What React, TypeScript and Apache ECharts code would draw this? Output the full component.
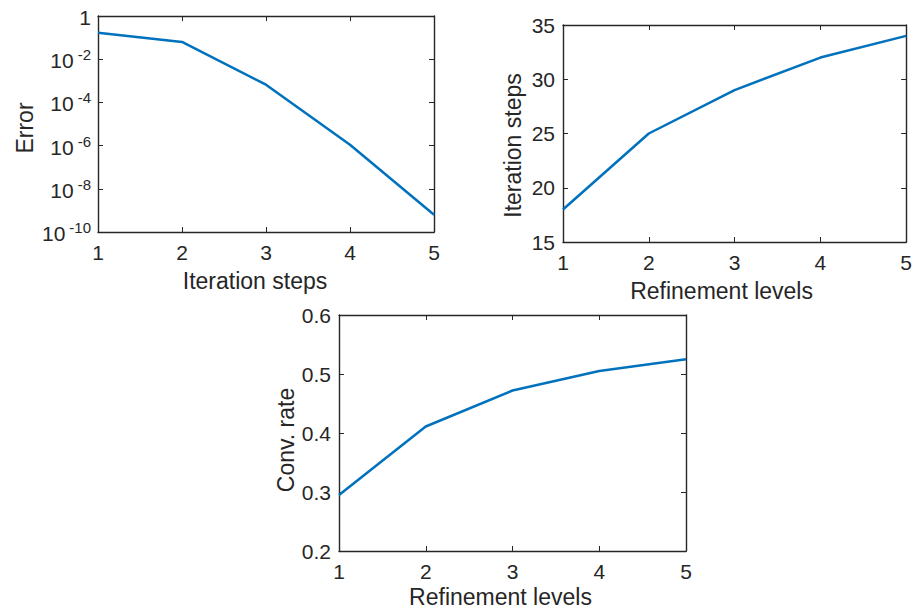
import React, { useEffect, useRef } from "react";
import * as echarts from "echarts";

const levels = [1, 2, 3, 4, 5];
const errorValues = [0.166, 0.063, 6.6e-4, 1.1e-6, 6.3e-10];
const iterationSteps = [18, 25, 29, 32, 34];
const convRates = [0.295, 0.411, 0.472, 0.505, 0.525];

const xTicks = [1, 2, 3, 4, 5];
const errorTickExponents = [0, -2, -4, -6, -8, -10];

const TXT = "#262626";
const LINE = "#0072BD";
const FONT = "'Liberation Sans', Arial, Helvetica, sans-serif";

export default function App() {
  const ref = useRef<HTMLDivElement>(null);
  useEffect(() => {
    if (!ref.current) return;
    const chart = echarts.init(ref.current, undefined, { renderer: "svg" });

    const axisLine = { show: true, onZero: false, lineStyle: { color: TXT, width: 1.4 } };
    const tick = { show: true, inside: true, length: 5, lineStyle: { color: TXT, width: 1 } };
    const label = { color: TXT, fontSize: 21, fontFamily: FONT };
    const nameStyle = (shift: number) => ({
      color: TXT,
      fontSize: 23,
      fontFamily: FONT,
      padding: [0, shift * 2, 0, 0],
    });

    const xMain = (gridIndex: number, name: string, gap: number, shift: number) => ({
      type: "value",
      gridIndex,
      position: "bottom",
      min: xTicks[0],
      max: xTicks[xTicks.length - 1],
      interval: 1,
      name,
      nameLocation: "middle",
      nameGap: gap,
      nameTextStyle: nameStyle(shift),
      axisLine,
      axisTick: tick,
      axisLabel: { ...label, margin: 10 },
      splitLine: { show: false },
    });
    const xTop = (gridIndex: number) => ({
      type: "value",
      gridIndex,
      position: "top",
      min: xTicks[0],
      max: xTicks[xTicks.length - 1],
      interval: 1,
      axisLine,
      axisTick: tick,
      axisLabel: { show: false },
      splitLine: { show: false },
    });
    const yLin = (gridIndex: number, min: number, max: number, interval: number, name: string, gap: number, shift: number, fmt?: (v: number) => string, right = false) => ({
      type: "value",
      gridIndex,
      position: right ? "right" : "left",
      min,
      max,
      interval,
      name: right ? "" : name,
      nameLocation: "middle",
      nameGap: gap,
      nameTextStyle: nameStyle(shift),
      axisLine,
      axisTick: tick,
      axisLabel: right ? { show: false } : { ...label, margin: 8, formatter: fmt },
      splitLine: { show: false },
    });

    const logFmt = (v: number) => {
      const e = Math.round(Math.log10(v));
      if (!errorTickExponents.includes(e)) return "";
      if (e === 0) return "{b|1}";
      return "{b|10}{s|" + e + "}";
    };
    const yLog = (right: boolean) => ({
      type: "log",
      logBase: 10,
      gridIndex: 0,
      position: right ? "right" : "left",
      min: Math.pow(10, errorTickExponents[errorTickExponents.length - 1]),
      max: Math.pow(10, errorTickExponents[0]),
      interval: 2,
      name: right ? "" : "Error",
      nameLocation: "middle",
      nameGap: 62,
      nameTextStyle: nameStyle(4),
      axisLine,
      axisTick: tick,
      axisLabel: right
        ? { show: false }
        : {
            margin: 7,
            formatter: logFmt,
            rich: {
              b: { color: TXT, fontSize: 21, fontFamily: FONT, verticalAlign: "bottom", lineHeight: 24 },
              s: { color: TXT, fontSize: 15, fontFamily: FONT, verticalAlign: "top", lineHeight: 15, padding: [0, 0, 9, 4] },
            },
          },
      splitLine: { show: false },
    });

    const series = (xi: number, yi: number, vals: number[]) => ({
      type: "line",
      xAxisIndex: xi,
      yAxisIndex: yi,
      data: levels.map((l, i) => [l, vals[i]]),
      showSymbol: false,
      symbol: "none",
      lineStyle: { color: LINE, width: 2.5 },
      clip: false,
    });

    chart.setOption({
      animation: false,
      backgroundColor: "#ffffff",
      textStyle: { fontFamily: FONT },
      grid: [
        { left: 98, top: 16, width: 336, height: 216 },
        { left: 563, top: 25, width: 348, height: 217 },
        { left: 339, top: 315, width: 347, height: 236 },
      ],
      xAxis: [
        xMain(0, "Iteration steps", 37, 11),
        xTop(0),
        xMain(1, "Refinement levels", 37, 13),
        xTop(1),
        xMain(2, "Refinement levels", 34, 12),
        xTop(2),
      ],
      yAxis: [
        yLog(false),
        yLog(true),
        yLin(1, 15, 35, 5, "Iteration steps", 39, 12),
        yLin(1, 15, 35, 5, "", 0, 0, undefined, true),
        yLin(2, 0.2, 0.6, 0.1, "Conv. rate", 42, 7, (v: number) => v.toFixed(1)),
        yLin(2, 0.2, 0.6, 0.1, "", 0, 0, undefined, true),
      ],
      series: [
        series(0, 0, errorValues),
        series(2, 2, iterationSteps),
        series(4, 4, convRates),
      ],
    });
    return () => chart.dispose();
  }, []);
  return (
    <div
      ref={ref}
      style={{ position: "fixed", left: 0, top: 0, width: 915, height: 613, background: "#fff" }}
    />
  );
}
